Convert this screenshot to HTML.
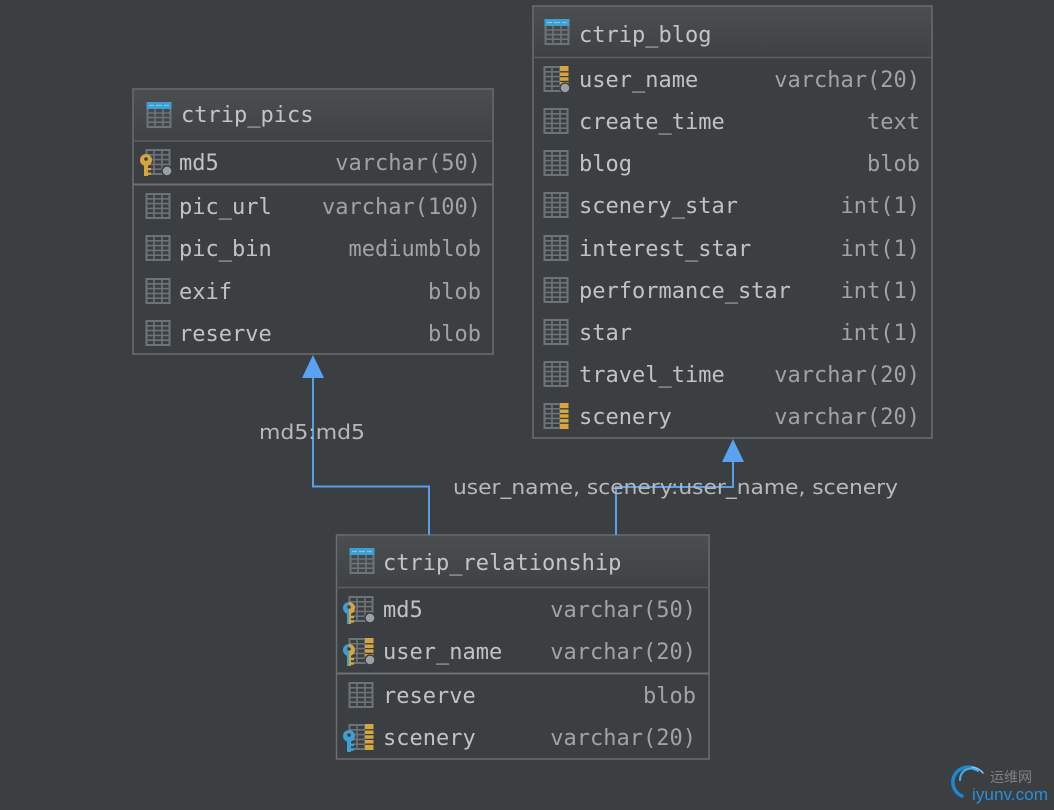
<!DOCTYPE html>
<html><head><meta charset="utf-8">
<style>
html,body{margin:0;padding:0;background:#3c3f41;}
svg{display:block}
.h{font-family:"DejaVu Sans Mono","Liberation Mono",monospace;font-size:22px;fill:#c4c4c4;}
.n{font-family:"DejaVu Sans Mono","Liberation Mono",monospace;font-size:22px;fill:#c2c2c2;}
.t{font-family:"DejaVu Sans Mono","Liberation Mono",monospace;font-size:22px;fill:#a2a2a2;text-anchor:end;}
.l{font-family:"DejaVu Sans","Liberation Sans",sans-serif;font-size:20px;fill:#b8b8b8;}
</style></head>
<body>
<svg width="1054" height="810" xmlns="http://www.w3.org/2000/svg" xmlns:xlink="http://www.w3.org/1999/xlink">
<defs>
<linearGradient id="hdr" x1="0" y1="0" x2="0" y2="1">
<stop offset="0" stop-color="#4b4e50"/><stop offset="1" stop-color="#3f4244"/>
</linearGradient>
<linearGradient id="mix" gradientUnits="userSpaceOnUse" x1="0" y1="0" x2="12" y2="0">
<stop offset="0.5" stop-color="#3d9fd4"/><stop offset="0.5" stop-color="#d6a53d"/>
</linearGradient>
<g id="grid">
<rect x="2.5" y="1" width="23" height="24" fill="none" stroke="#6b747a" stroke-width="2"/>
<path d="M10 1v24M18 1v24M2.5 5.8h23M2.5 10.6h23M2.5 15.4h23M2.5 20.2h23" stroke="#6b747a" stroke-width="1.6" fill="none"/>
</g>
<g id="tbl">
<rect x="2.5" y="1" width="23" height="24" fill="none" stroke="#6b747a" stroke-width="2"/>
<path d="M10 7v18M18 7v18M2.5 11h23M2.5 15.6h23M2.5 20.2h23" stroke="#6b747a" stroke-width="1.6" fill="none"/>
<rect x="1.5" y="0" width="25" height="7" fill="#3f9fd2"/>
<path d="M4 3.5h5M11 3.5h6M19 3.5h5" stroke="#7cc4ea" stroke-width="1.2"/>
</g>
<g id="gold">
<rect x="18" y="0" width="8.5" height="26" fill="#d6a53d"/>
<path d="M18 5.8h8.5M18 10.6h8.5M18 15.4h8.5M18 20.2h8.5" stroke="#3c3f41" stroke-width="1.3"/>
</g>
<circle id="dot" cx="23" cy="22" r="5" fill="#9aa1a6" stroke="#3c3f41" stroke-width="1.5"/>
<g id="keyshape">
<circle cx="6" cy="11" r="6"/>
<rect x="4" y="14" width="4" height="13"/>
<rect x="7.5" y="19" width="3.5" height="2.2"/>
<rect x="7.5" y="23.5" width="3.5" height="2.2"/>
</g>
<g id="kgold"><use xlink:href="#keyshape" fill="#d6a53d"/><circle cx="6" cy="10" r="1.8" fill="#3c3f41"/></g>
<g id="kblue"><use xlink:href="#keyshape" fill="#3d9fd4"/><circle cx="6" cy="10" r="1.8" fill="#3c3f41"/></g>
<g id="kmix"><use xlink:href="#keyshape" fill="url(#mix)"/><circle cx="6" cy="10" r="1.8" fill="#3c3f41"/></g>
</defs>

<rect width="1054" height="810" fill="#3c3f41"/>

<!-- ctrip_pics -->
<rect x="133" y="89" width="360" height="265" fill="#3c3f41" stroke="#6b6e70" stroke-width="1.5"/>
<rect x="134" y="90" width="358" height="51" fill="url(#hdr)"/>
<line x1="133" y1="141" x2="493" y2="141" stroke="#5c5f61" stroke-width="1.5"/>
<line x1="133" y1="184.5" x2="493" y2="184.5" stroke="#6e7173" stroke-width="2"/>
<use xlink:href="#tbl" x="145" y="102"/>
<text class="h" x="181" y="122">ctrip_pics</text>
<use xlink:href="#grid" x="144" y="149"/><use xlink:href="#dot" x="144" y="149"/><use xlink:href="#kgold" x="140" y="149"/>
<text class="n" x="179" y="170">md5</text><text class="t" x="481" y="170">varchar(50)</text>
<use xlink:href="#grid" x="144" y="193"/>
<text class="n" x="179" y="214">pic_url</text><text class="t" x="481" y="214">varchar(100)</text>
<use xlink:href="#grid" x="144" y="235"/>
<text class="n" x="179" y="256">pic_bin</text><text class="t" x="481" y="256">mediumblob</text>
<use xlink:href="#grid" x="144" y="278"/>
<text class="n" x="179" y="299">exif</text><text class="t" x="481" y="299">blob</text>
<use xlink:href="#grid" x="144" y="320"/>
<text class="n" x="179" y="341">reserve</text><text class="t" x="481" y="341">blob</text>

<!-- ctrip_blog -->
<rect x="533" y="6" width="399" height="432" fill="#3c3f41" stroke="#6b6e70" stroke-width="1.5"/>
<rect x="534" y="7" width="397" height="50" fill="url(#hdr)"/>
<line x1="533" y1="57.5" x2="932" y2="57.5" stroke="#5c5f61" stroke-width="1.5"/>
<use xlink:href="#tbl" x="543" y="19"/>
<text class="h" x="579" y="42">ctrip_blog</text>
<use xlink:href="#grid" x="542" y="66"/><use xlink:href="#gold" x="542" y="66"/><use xlink:href="#dot" x="542" y="66"/>
<text class="n" x="579" y="87">user_name</text><text class="t" x="920" y="87">varchar(20)</text>
<use xlink:href="#grid" x="542" y="108"/>
<text class="n" x="579" y="129">create_time</text><text class="t" x="920" y="129">text</text>
<use xlink:href="#grid" x="542" y="150"/>
<text class="n" x="579" y="171">blog</text><text class="t" x="920" y="171">blob</text>
<use xlink:href="#grid" x="542" y="192"/>
<text class="n" x="579" y="213">scenery_star</text><text class="t" x="920" y="213">int(1)</text>
<use xlink:href="#grid" x="542" y="235"/>
<text class="n" x="579" y="256">interest_star</text><text class="t" x="920" y="256">int(1)</text>
<use xlink:href="#grid" x="542" y="277"/>
<text class="n" x="579" y="298">performance_star</text><text class="t" x="920" y="298">int(1)</text>
<use xlink:href="#grid" x="542" y="319"/>
<text class="n" x="579" y="340">star</text><text class="t" x="920" y="340">int(1)</text>
<use xlink:href="#grid" x="542" y="361"/>
<text class="n" x="579" y="382">travel_time</text><text class="t" x="920" y="382">varchar(20)</text>
<use xlink:href="#grid" x="542" y="403"/><use xlink:href="#gold" x="542" y="403"/>
<text class="n" x="579" y="424">scenery</text><text class="t" x="920" y="424">varchar(20)</text>

<!-- ctrip_relationship -->
<rect x="336.5" y="535" width="372.5" height="224" fill="#3c3f41" stroke="#6b6e70" stroke-width="1.5"/>
<rect x="337.5" y="536" width="370.5" height="51" fill="url(#hdr)"/>
<line x1="336.5" y1="587.5" x2="709" y2="587.5" stroke="#5c5f61" stroke-width="1.5"/>
<line x1="336.5" y1="673.5" x2="709" y2="673.5" stroke="#6e7173" stroke-width="2"/>
<use xlink:href="#tbl" x="348" y="548"/>
<text class="h" x="383" y="570">ctrip_relationship</text>
<use xlink:href="#grid" x="347" y="596"/><use xlink:href="#dot" x="347" y="596"/><use xlink:href="#kmix" x="343" y="597"/>
<text class="n" x="383" y="617">md5</text><text class="t" x="696" y="617">varchar(50)</text>
<use xlink:href="#grid" x="347" y="638"/><use xlink:href="#gold" x="347" y="638"/><use xlink:href="#dot" x="347" y="638"/><use xlink:href="#kmix" x="343" y="639"/>
<text class="n" x="383" y="659">user_name</text><text class="t" x="696" y="659">varchar(20)</text>
<use xlink:href="#grid" x="347" y="682"/>
<text class="n" x="383" y="703">reserve</text><text class="t" x="696" y="703">blob</text>
<use xlink:href="#grid" x="347" y="724"/><use xlink:href="#gold" x="347" y="724"/><use xlink:href="#kblue" x="343" y="725"/>
<text class="n" x="383" y="745">scenery</text><text class="t" x="696" y="745">varchar(20)</text>

<!-- connectors -->
<path d="M429 535V486.5H313V377" fill="none" stroke="#5a9de8" stroke-width="2"/>
<polygon points="313,355 302,378 324,378" fill="#5aa2f2"/>
<path d="M616 535V487H733V461" fill="none" stroke="#5a9de8" stroke-width="2"/>
<polygon points="733,439 722,462 744,462" fill="#5aa2f2"/>

<text class="l" x="259" y="439" textLength="106" lengthAdjust="spacingAndGlyphs">md5:md5</text>
<text class="l" x="453" y="494" textLength="445" lengthAdjust="spacingAndGlyphs">user_name, scenery:user_name, scenery</text>

<!-- watermark -->
<g fill="none" stroke-linecap="round">
<path d="M975 769 A15 15 0 1 0 962 796" stroke="#1f86d0" stroke-width="3.5"/>
<path d="M978 771 A11 11 0 0 0 960 780" stroke="#4aaee8" stroke-width="2"/>
<path d="M972 767 A16 16 0 0 1 983 773" stroke="#7fc6f0" stroke-width="1.5"/>
</g>
<text x="990" y="782" font-family="'Noto Sans CJK SC','WenQuanYi Zen Hei',sans-serif" font-size="14" fill="#7d8184">运维网</text>
<text x="972" y="800" font-family="'Liberation Sans',sans-serif" font-size="17" fill="#2a8fd8" textLength="76" lengthAdjust="spacingAndGlyphs">iyunv.com</text>
</svg>
</body></html>
